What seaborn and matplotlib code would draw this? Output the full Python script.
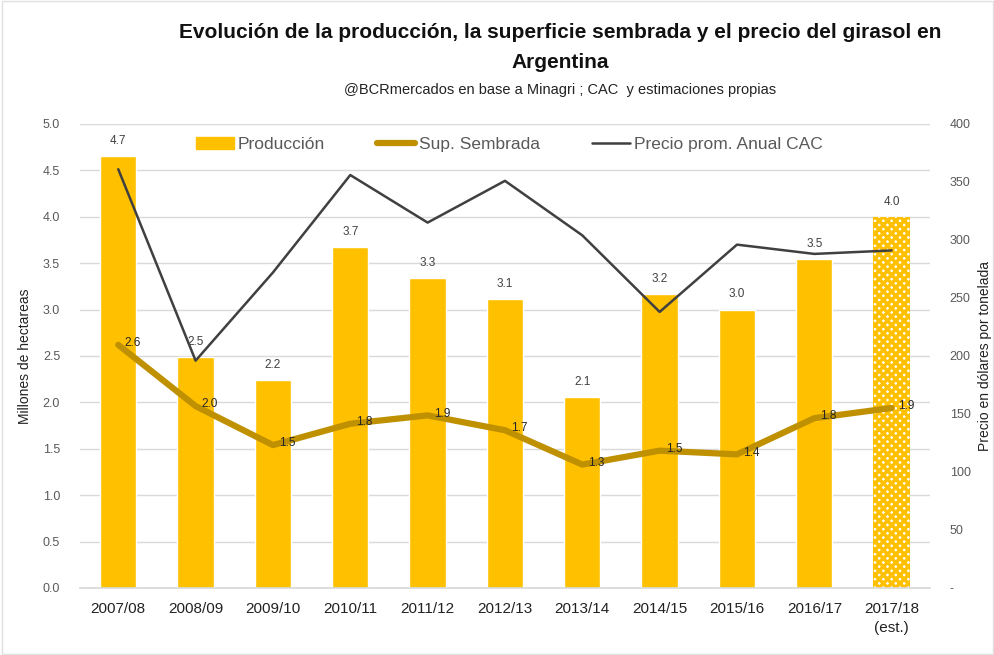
import matplotlib
matplotlib.use("Agg")
import matplotlib.pyplot as plt
import seaborn as sns
import pandas as pd
import numpy as np
from matplotlib.patches import Patch, Rectangle
from matplotlib.lines import Line2D

campanas = ["2007/08", "2008/09", "2009/10", "2010/11", "2011/12", "2012/13",
            "2013/14", "2014/15", "2015/16", "2016/17", "2017/18\n(est.)"]
produccion = [4.65, 2.49, 2.24, 3.67, 3.34, 3.11, 2.06, 3.17, 3.00, 3.54, 4.00]
sup_sembrada = [2.62, 1.96, 1.54, 1.77, 1.86, 1.70, 1.33, 1.48, 1.44, 1.83, 1.94]
precio = [361, 196, 272, 356, 315, 351, 304, 238, 296, 288, 291]
left_ticks = [0.0, 0.5, 1.0, 1.5, 2.0, 2.5, 3.0, 3.5, 4.0, 4.5, 5.0]
right_ticks = [0, 50, 100, 150, 200, 250, 300, 350, 400]

sns.set_theme(style="white")
plt.rcParams['font.family'] = ['Liberation Sans', 'DejaVu Sans']
plt.rcParams['hatch.linewidth'] = 2.5

df = pd.DataFrame({"x": np.arange(len(campanas)), "campana": campanas,
                   "prod": produccion, "sup": sup_sembrada, "precio": precio})

fig = plt.figure(figsize=(9.95, 6.55), dpi=100)
fig.patches.append(Rectangle((0.002, 0.002), 0.996, 0.996, transform=fig.transFigure,
                             fill=False, edgecolor="#E0E0E0", linewidth=1.0))
ax = fig.add_axes([0.080, 0.1023, 0.855, 0.7084])
ax2 = ax.twinx()

BAR = "#FFC000"
SUP = "#BF9000"
PRC = "#404040"

sns.barplot(data=df, x="x", y="prod", color=BAR, width=0.47, ax=ax,
            saturation=1)
last = ax.patches[-1]
last.set_facecolor("white")
last.set_edgecolor(BAR)
last.set_hatch("xxxx")
last.set_linewidth(0)

sns.lineplot(data=df, x="x", y="sup", color=SUP, linewidth=4.5, ax=ax,
             legend=False, zorder=3)
sns.lineplot(data=df, x="x", y="precio", color=PRC, linewidth=1.8, ax=ax2,
             legend=False, zorder=4)

ax.set_ylim(0, 5.0)
ax2.set_ylim(0, 400)
ax.set_xlim(-0.5, len(campanas) - 0.5)
ax.set_yticks(left_ticks)
ax.set_yticklabels([f"{v:.1f}" for v in left_ticks], color="#595959", fontsize=9)
ax2.set_yticks(right_ticks)
ax2.set_yticklabels(["-" if v == 0 else str(v) for v in right_ticks],
                    color="#595959", fontsize=9)
ax.set_xticks(df["x"])
ax.set_xticklabels(campanas, fontsize=11, color="#222222", linespacing=1.5)
ax.tick_params(axis="x", length=0, pad=10)
ax.tick_params(axis="y", length=0, pad=14)
ax2.tick_params(axis="y", length=0, pad=14)
ax.yaxis.grid(True, color="#D9D9D9", linewidth=1)
ax.set_axisbelow(True)
for a in (ax, ax2):
    for s in a.spines.values():
        s.set_visible(False)
ax.spines["bottom"].set_visible(True)
ax.spines["bottom"].set_color("#D9D9D9")

ax.set_xlabel("")
ax.set_ylabel("Millones de hectareas", fontsize=10, color="#222222", labelpad=8)
ax2.set_ylabel("Precio en dólares por tonelada", fontsize=10, color="#222222",
               labelpad=5)

for i, v in enumerate(produccion):
    ax.text(i, v + 0.1, f"{v:.1f}", ha="center", va="bottom", fontsize=8.5,
            color="#404040")
for i, v in enumerate(sup_sembrada):
    ax.text(i + 0.08, v + 0.02, f"{v:.1f}", ha="left", va="center", fontsize=8.5,
            color="#262626", zorder=5)

handles = [Patch(facecolor=BAR, edgecolor=BAR),
           Line2D([0], [0], color=SUP, linewidth=4.5),
           Line2D([0], [0], color=PRC, linewidth=1.8)]
labels = ["Producción", "Sup. Sembrada", "Precio prom. Anual CAC"]
leg = ax.legend(handles, labels, loc="upper center", bbox_to_anchor=(0.505, 1.005),
                ncol=3, frameon=False, fontsize=12.5, handlelength=2.2,
                handletextpad=0.2, columnspacing=3.0)
for t in leg.get_texts():
    t.set_color("#595959")

fig.text(0.563, 0.951, "Evolución de la producción, la superficie sembrada y el precio del girasol en",
         ha="center", va="center", fontsize=15, fontweight="bold", color="#111111")
fig.text(0.563, 0.904, "Argentina", ha="center", va="center", fontsize=15,
         fontweight="bold", color="#111111")
fig.text(0.563, 0.862, "@BCRmercados en base a Minagri ; CAC  y estimaciones propias",
         ha="center", va="center", fontsize=10.5, color="#222222")

fig.savefig("out.png", dpi=100, facecolor="white")
